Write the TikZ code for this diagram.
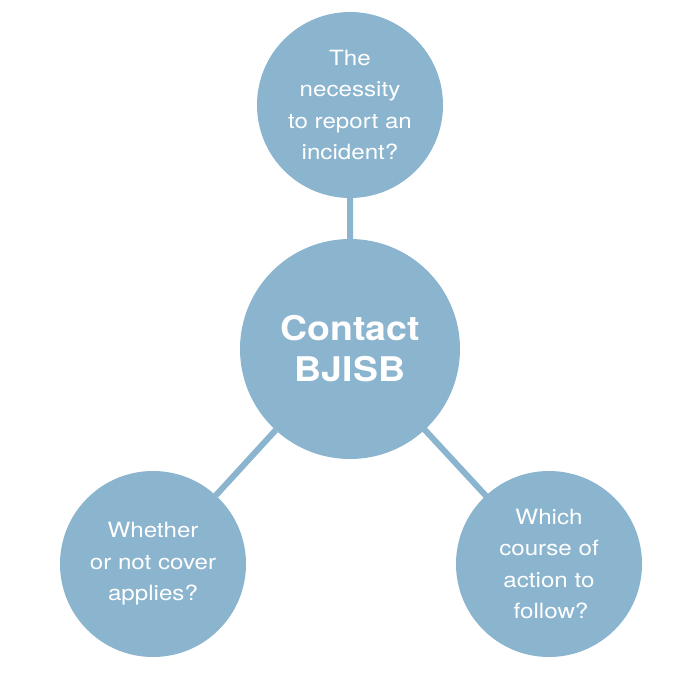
\documentclass[tikz,border=0pt]{standalone}
\usepackage{fontspec}
\setmainfont{TeX Gyre Heros}[FakeStretch=1.15,BoldFeatures={FakeStretch=1.1}]
\usetikzlibrary{positioning}

\definecolor{bubblue}{RGB}{139,180,207}

\begin{document}
\begin{tikzpicture}[x=1pt,y=-1pt,line width=6pt]
    \tikzset{
      bubble/.style={circle,fill=bubblue,text=white,inner sep=0pt,outer sep=0pt,
        minimum size=186pt,align=center,font=\fontsize{21}{31.5}\selectfont},
      hub/.style={bubble,minimum size=220pt,font=\bfseries\fontsize{34}{41}\selectfont},
      link/.style={draw=bubblue,shorten <=-2pt,shorten >=-2pt}
    }
    \useasboundingbox (0,0) rectangle (700,700);

    %centre
    \node[hub] (contact) at (350,349) {Contact\\BJISB};

    %questions
    \node[bubble] (report) [above=41pt of contact] {The\\necessity\\to report an\\incident?};
    \node[bubble] (cover) at (153,564) {Whether\\or not cover\\applies?};
    \node[bubble] (action) at (549,564) {Which\\course of\\action to\\\hspace{4pt}follow?};

    %links
    \path[link]
    (contact) -- (report)
    (contact) -- (cover)
    (contact) -- (action);
\end{tikzpicture}
\end{document}
